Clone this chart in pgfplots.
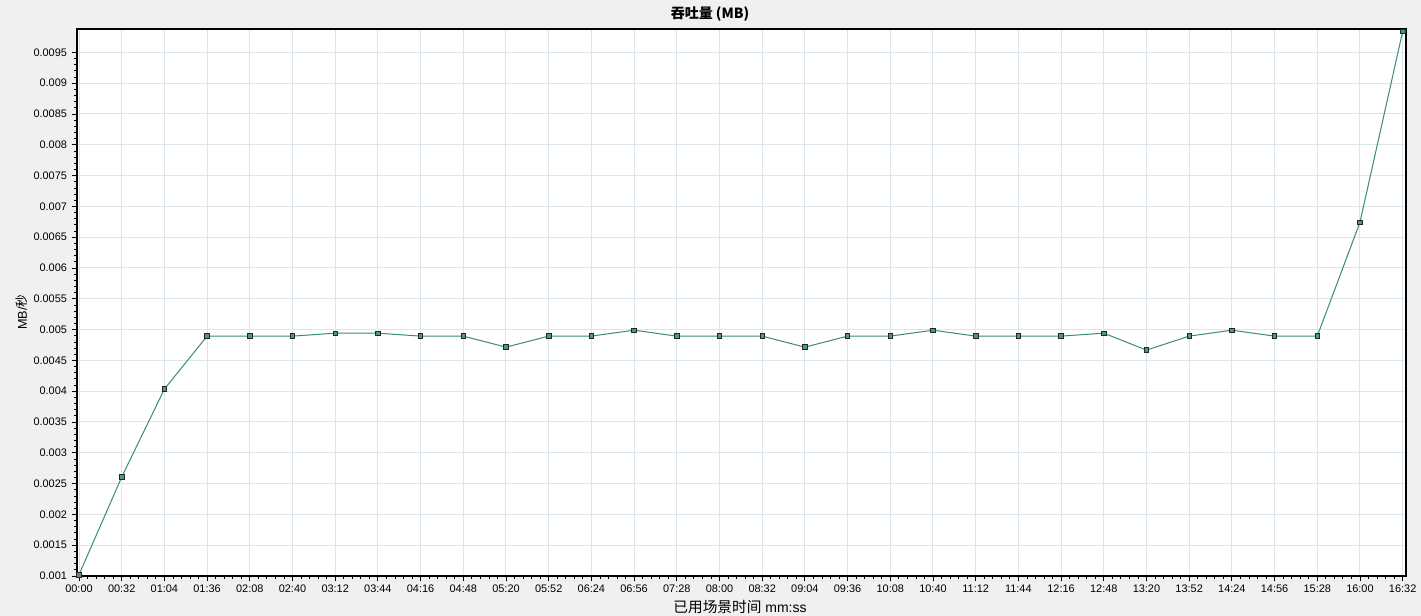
\documentclass[border=0pt]{standalone}
\usepackage{pgfplots}
\pgfplotsset{compat=1.18}
\usepackage{fontspec}
\setmainfont{Liberation Sans}
\newfontfamily\cjk{Noto Sans CJK SC}
\definecolor{bgc}{RGB}{240,240,240}
\definecolor{gridc}{RGB}{220,228,238}
\definecolor{linec}{RGB}{60,140,110}
\definecolor{markc}{RGB}{70,160,110}
\begin{document}
\begin{tikzpicture}
\fill[bgc] (0,0) rectangle (1065.75pt,462pt);
\begin{axis}[
  at={(57.75pt,30pt)}, anchor=south west,
  scale only axis, width=996.75pt, height=410.25pt,
  xmin=-1.5, xmax=994.5, ymin=0.001, ymax=0.00988,
  axis background/.style={fill=white},
  xtick={0,32,...,992},
  xticklabels={00:00,00:32,01:04,01:36,02:08,02:40,03:12,03:44,04:16,04:48,05:20,05:52,06:24,06:56,07:28,08:00,08:32,09:04,09:36,10:08,10:40,11:12,11:44,12:16,12:48,13:20,13:52,14:24,14:56,15:28,16:00,16:32},
  ytick={0.001,0.0015,0.002,0.0025,0.003,0.0035,0.004,0.0045,0.005,0.0055,0.006,0.0065,0.007,0.0075,0.008,0.0085,0.009,0.0095},
  yticklabel style={/pgf/number format/.cd,fixed,precision=4},
  scaled y ticks=false,
  /pgf/number format/assume math mode=true,
  minor x tick num=4, minor y tick num=4,
  tick align=outside, tick pos=left,
  major tick length=4pt, minor tick length=2.2pt,
  tick style={black, line width=0.6pt},
  ticklabel style={font=\fontsize{8.2}{9}\selectfont},
  xticklabel style={yshift=1pt},
  grid=major, major grid style={gridc, line width=0.75pt},
  axis line style={black, line width=0.9pt},
  clip=false,
]
\draw[black, line width=1.8pt] (rel axis cs:0,1) -- (rel axis cs:0,0) -- (rel axis cs:1,0);
\addplot[linec, line width=0.75pt, mark=square*, mark size=1.7pt,
  mark options={fill=markc, draw=black!85, line width=0.6pt}] coordinates {
(0,0.00102) (32,0.002606) (64,0.004034) (96,0.004894) (128,0.004894)
(160,0.004894) (192,0.004942) (224,0.004942) (256,0.004894) (288,0.004894)
(320,0.004715) (352,0.004894) (384,0.004894) (416,0.00499) (448,0.004894)
(480,0.004894) (512,0.004894) (544,0.004715) (576,0.004894) (608,0.004894)
(640,0.00499) (672,0.004894) (704,0.004894) (736,0.004894) (768,0.004942)
(800,0.004667) (832,0.004894) (864,0.00499) (896,0.004894) (928,0.004894)
(960,0.006743) (992,0.00984)
};
\end{axis}
\node[font=\cjk\bfseries\fontsize{10.5}{12}\selectfont] at (532.5pt,451.5pt) {吞吐量 (MB)};
\node[font=\fontsize{10.5}{12}\selectfont] at (555pt,6.75pt) {{\cjk\fontsize{11}{12}\selectfont 已用场景时间} mm:ss};
\node[rotate=90, font=\fontsize{9.5}{11}\selectfont] at (16.5pt,228pt) {MB/{\cjk 秒}};
\pgfresetboundingbox
\useasboundingbox (0,0) rectangle (1065.75pt,462pt);
\end{tikzpicture}
\end{document}
